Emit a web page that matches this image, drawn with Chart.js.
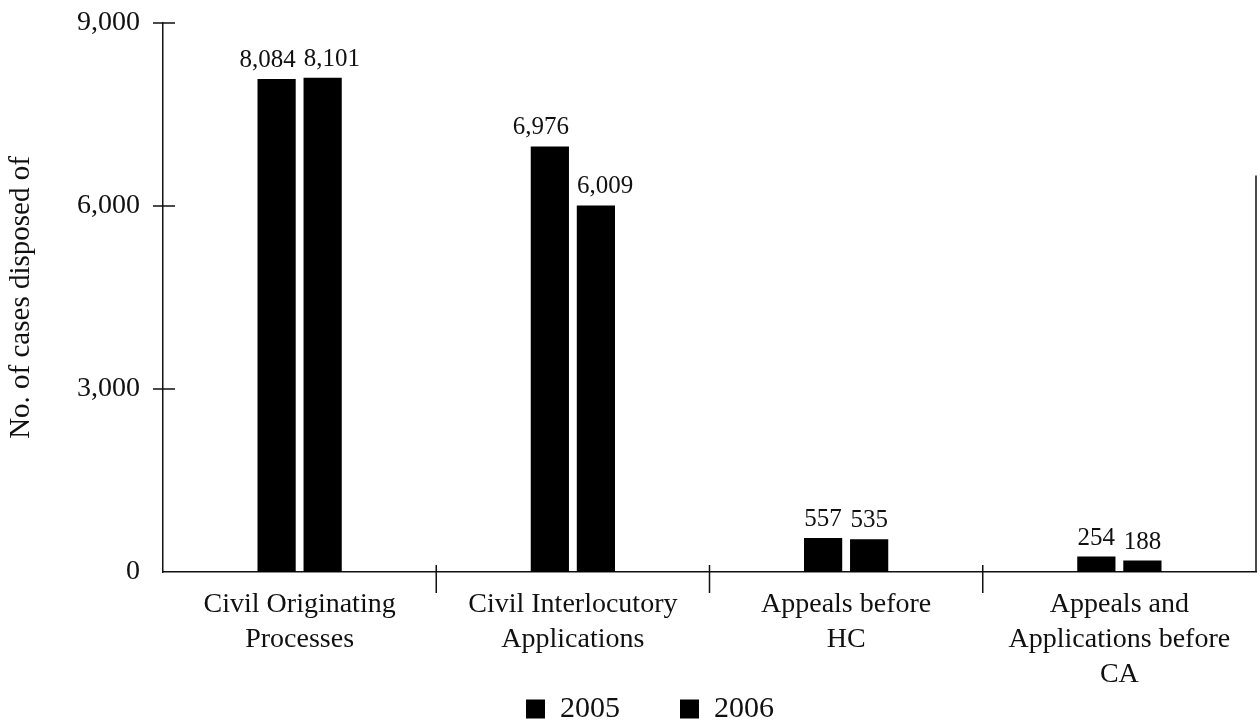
<!DOCTYPE html>
<html>
<head>
<meta charset="utf-8">
<script src="https://cdn.jsdelivr.net/npm/chart.js@4/dist/chart.umd.min.js"></script>
<style>
  html, body { margin: 0; padding: 0; background: #fff; }
  #wrap { width: 1260px; height: 726px; }
</style>
</head>
<body>
<div id="wrap"><canvas id="myChart" width="1260" height="726"></canvas></div>
<script>
///////////// DATA /////////////

const categories = [
  ['Civil Originating', 'Processes'],
  ['Civil Interlocutory', 'Applications'],
  ['Appeals before', 'HC'],
  ['Appeals and', 'Applications before', 'CA']
];
const seriesNames = ['2005', '2006'];
const values2005 = [8084, 6976, 557, 254];
const values2006 = [8101, 6009, 535, 188];
const yTicks = [0, 3000, 6000, 9000];
const yTitle = 'No. of cases disposed of';

const serif = "'Liberation Serif', 'DejaVu Serif', serif";
const fmt = v => v.toLocaleString('en-US');

///////////// PLUGINS /////////////

// value labels above each bar, pushed apart when a pair would overlap
const barLabels = {
  id: 'barLabels',
  afterDatasetsDraw(chart) {
    const ctx = chart.ctx;
    ctx.save();
    ctx.fillStyle = '#111';
    ctx.font = '25px ' + serif;
    ctx.textAlign = 'center';
    ctx.textBaseline = 'alphabetic';
    const m0 = chart.getDatasetMeta(0).data;
    const m1 = chart.getDatasetMeta(1).data;
    m0.forEach((b0, j) => {
      const b1 = m1[j];
      const t0 = fmt(values2005[j]), t1 = fmt(values2006[j]);
      const w0 = ctx.measureText(t0).width, w1 = ctx.measureText(t1).width;
      const need = w0 / 2 + w1 / 2 + 8 - (b1.x - b0.x);
      const shift = need > 0 ? need / 2 : 0;
      ctx.fillText(t0, b0.x - shift, b0.y - 12);
      ctx.fillText(t1, b1.x + shift, b1.y - 12);
    });
    ctx.restore();
  }
};

// tick marks crossing the axes + right frame line
const axisMarks = {
  id: 'axisMarks',
  afterDraw(chart) {
    const { ctx, chartArea: a, scales: { x, y } } = chart;
    ctx.save();
    ctx.strokeStyle = '#111';
    ctx.lineWidth = 1.5;
    ctx.beginPath();
    yTicks.slice(1).forEach(t => {
      const py = y.getPixelForValue(t);
      ctx.moveTo(a.left - 10, py);
      ctx.lineTo(a.left + 12, py);
    });
    for (let i = 0; i < categories.length - 1; i++) {
      const px = (x.getPixelForValue(i) + x.getPixelForValue(i + 1)) / 2;
      ctx.moveTo(px, a.bottom - 7);
      ctx.lineTo(px, a.bottom + 21);
    }
    // right frame segment
    ctx.moveTo(a.right, y.getPixelForValue(6500));
    ctx.lineTo(a.right, a.bottom);
    ctx.stroke();
    ctx.restore();
  }
};

///////////// CHART /////////////

const ctx = document.getElementById('myChart').getContext('2d');
new Chart(ctx, {
  type: 'bar',
  data: {
    labels: categories,
    datasets: [
      { label: seriesNames[0], data: values2005, backgroundColor: '#000' },
      { label: seriesNames[1], data: values2006, backgroundColor: '#000' }
    ]
  },
  options: {
    responsive: false,
    animation: false,
    layout: { padding: { left: 44, right: 4, top: 23, bottom: -8 } },
    datasets: { bar: { categoryPercentage: 0.337, barPercentage: 0.83 } },
    plugins: {
      tooltip: { enabled: false },
      legend: {
        position: 'bottom',
        labels: {
          color: '#111',
          font: { family: serif, size: 30 },
          boxWidth: 19,
          boxHeight: 19,
          padding: 0,
          // wider gap between the two entries
          generateLabels: chart => {
            const items = Chart.defaults.plugins.legend.labels.generateLabels(chart);
            items[0].text = items[0].text + '        ';
            return items;
          }
        }
      }
    },
    scales: {
      x: {
        afterFit: s => { s.height = 122; },
        grid: { display: false, drawTicks: false },
        border: { display: true, color: '#111', width: 1.5 },
        ticks: {
          color: '#111',
          font: { family: serif, size: 28, lineHeight: 1.25 },
          padding: 15,
          maxRotation: 0,
          autoSkip: false
        }
      },
      y: {
        min: 0,
        max: 9000,
        afterFit: s => { s.width = 119; s.paddingTop = 0; },
        afterBuildTicks: s => { s.ticks = yTicks.map(v => ({ value: v })); },
        grid: { display: false, drawTicks: false },
        border: { display: true, color: '#111', width: 1.5 },
        ticks: {
          color: '#111',
          font: { family: serif, size: 28 },
          padding: 23,
          callback: v => fmt(v)
        },
        title: {
          display: true,
          text: yTitle,
          color: '#111',
          font: { family: serif, size: 29 },
          padding: { top: -40, bottom: 0 }
        }
      }
    }
  },
  plugins: [barLabels, axisMarks]
});
</script>
</body>
</html>
